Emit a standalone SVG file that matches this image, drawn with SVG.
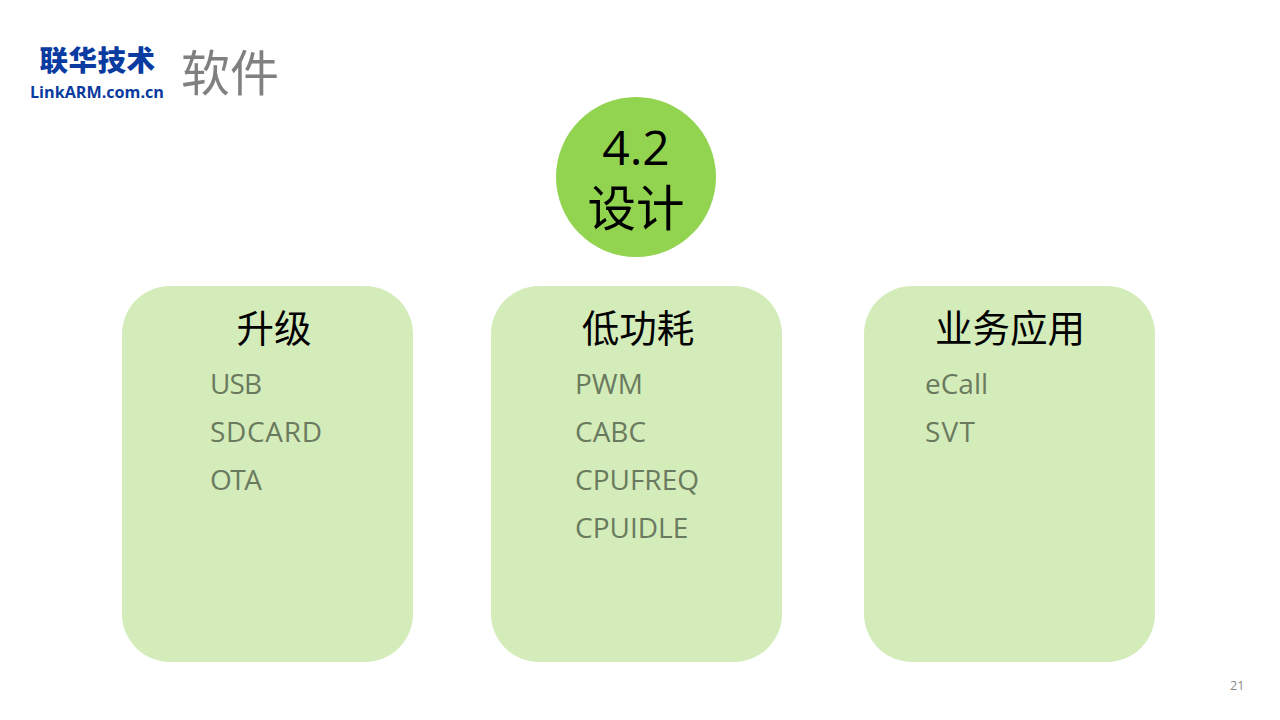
<svg xmlns="http://www.w3.org/2000/svg" width="1280" height="720" viewBox="0 0 1280 720">
<style>
.card{fill:#d4ecba}
.h{font-family:"Noto Sans CJK SC","Noto Sans",sans-serif;font-size:37.5px;fill:#000;text-anchor:middle}
.i{font-family:"Open Sans","Noto Sans",sans-serif;font-size:28px;fill:#6a7a5e}
.b{font-family:"Noto Sans CJK SC",sans-serif;font-weight:900;fill:#0a3ba0}
</style>
<rect width="1280" height="720" fill="#fff"/>
<g id="logo">
<text x="97.500" y="71" class="b" font-size="28.500" text-anchor="middle" letter-spacing="0.500">联华技术</text>
<text x="30" y="97.500" font-family="Open Sans,sans-serif" font-weight="700" font-size="16.500" fill="#0a3ba0" textLength="134" lengthAdjust="spacingAndGlyphs">LinkARM.com.cn</text>
</g>
<text id="title" x="181" y="91" font-family="Noto Sans CJK SC,sans-serif" font-size="49" fill="#808080">软件</text>
<g id="circle">
<circle cx="636" cy="177" r="80" fill="#92d450"/>
<text x="636" y="165" font-family="Open Sans,sans-serif" font-size="48" text-anchor="middle">4.2</text>
<text x="636" y="226" font-family="Noto Sans CJK SC,sans-serif" font-size="48.500" text-anchor="middle">设计</text>
</g>
<g id="card1">
<rect class="card" x="122" y="286" width="291" height="376" rx="48"/>
<text class="h" x="274" y="342">升级</text>
<text class="i" x="210" y="394" textLength="52">USB</text>
<text class="i" x="210" y="442" textLength="112">SDCARD</text>
<text class="i" x="210" y="490" textLength="52">OTA</text>
</g>
<g id="card2">
<rect class="card" x="491" y="286" width="291" height="376" rx="48"/>
<text class="h" x="638" y="342">低功耗</text>
<text class="i" x="575" y="394">PWM</text>
<text class="i" x="575" y="442">CABC</text>
<text class="i" x="575" y="490">CPUFREQ</text>
<text class="i" x="575" y="538">CPUIDLE</text>
</g>
<g id="card3">
<rect class="card" x="864" y="286" width="291" height="376" rx="48"/>
<text class="h" x="1010" y="342">业务应用</text>
<text class="i" x="925" y="394">eCall</text>
<text class="i" x="925" y="442" textLength="50">SVT</text>
</g>
<text id="page" x="1230" y="690" font-family="Open Sans,sans-serif" font-size="12.500" fill="#8a8a8a">21</text>
</svg>
